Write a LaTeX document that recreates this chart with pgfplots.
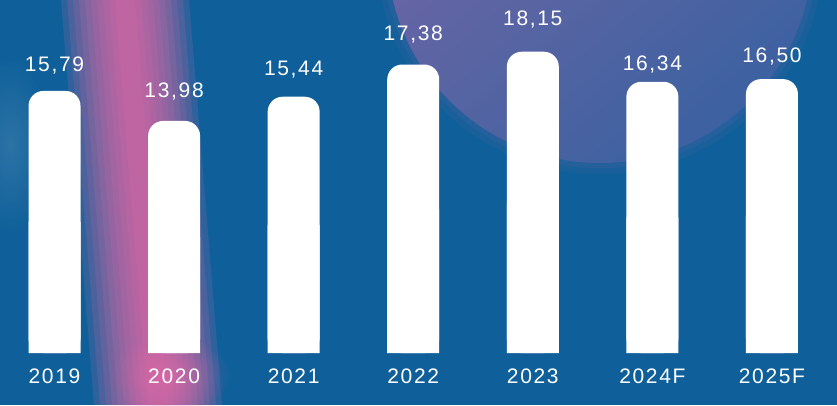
\documentclass[border=0pt]{standalone}
\usepackage{fontspec}
\setmainfont{Liberation Sans}
\usepackage{pgfplots}
\pgfplotsset{compat=1.18}
\usepackage{pgfplotstable}
\usetikzlibrary{fadings}
\tikzfading[name=myfade, inner color=transparent!0, outer color=transparent!100]
\definecolor{bg}{HTML}{0F609A}
\definecolor{pinkglow}{HTML}{EC6BA8}
\definecolor{circA}{HTML}{8A68A8}
\definecolor{circB}{HTML}{4262A2}

\pgfplotstableread{
x v ly lab
0 15.79 17.41 15,79
1 13.98 15.84 13,98
2 15.44 17.17 15,44
3 17.38 19.28 17,38
4 18.15 20.18 18,15
5 16.34 17.47 16,34
6 16.50 17.95 16,50
}\data

\newcommand{\lblfont}{\fontsize{21}{21}\selectfont\addfontfeatures{LetterSpace=8}}

\begin{document}
\begin{tikzpicture}
\useasboundingbox (0,0) rectangle (837pt,405pt);
\fill[bg] (0,0) rectangle (837pt,405pt);
\begin{scope}
\clip (0,0) rectangle (837pt,405pt);
% circle glow top right
\fill[circB, opacity=0.2] (600pt,455pt) circle (224pt);
\fill[circB, opacity=0.3] (600pt,455pt) circle (218pt);
\shade[top color=circA, bottom color=circB, shading angle=40, opacity=0.8] (600pt,455pt) circle (213pt);
% pink streak
\foreach \w in {64,58,...,10} {
  \fill[pinkglow, opacity=0.15] (158pt-\w pt,0pt) -- (158pt+\w pt,0pt) -- (125pt+\w pt,405pt) -- (125pt-\w pt,405pt) -- cycle;
}
\fill[pinkglow, path fading=myfade, opacity=0.5] (170pt,30pt) ellipse (60pt and 40pt);
\fill[white, path fading=myfade, opacity=0.12] (10pt,260pt) ellipse (40pt and 90pt);
\end{scope}

\begin{axis}[
  at={(0,0)}, anchor=south west,
  scale only axis, width=837pt, height=405pt,
  xmin=-0.456, xmax=6.544, ymin=-3.127, ymax=21.265,
  axis line style={draw=none},
  ytick=\empty,
  xtick={0,...,6},
  xticklabels={2019,2020,2021,2022,2023,2024F,2025F},
  major tick length=0pt,
  xticklabel style={text=white, font=\lblfont, anchor=center, yshift=29pt},
  clip=false,
]
\addplot[ybar, bar width=52pt, bar shift=0pt, fill=white, draw=none, rounded corners=15pt]
  table[x=x, y=v] {\data};
\addplot[ybar, bar width=52pt, bar shift=0pt, fill=white, draw=none]
  table[x=x, y expr=\thisrow{v}/2] {\data};
\addplot[draw=none, mark=none, nodes near coords, point meta=explicit symbolic,
  nodes near coords style={anchor=center, text=white, font=\lblfont, text depth=0pt}]
  table[x=x, y=ly, meta=lab] {\data};
\end{axis}
\end{tikzpicture}
\end{document}
